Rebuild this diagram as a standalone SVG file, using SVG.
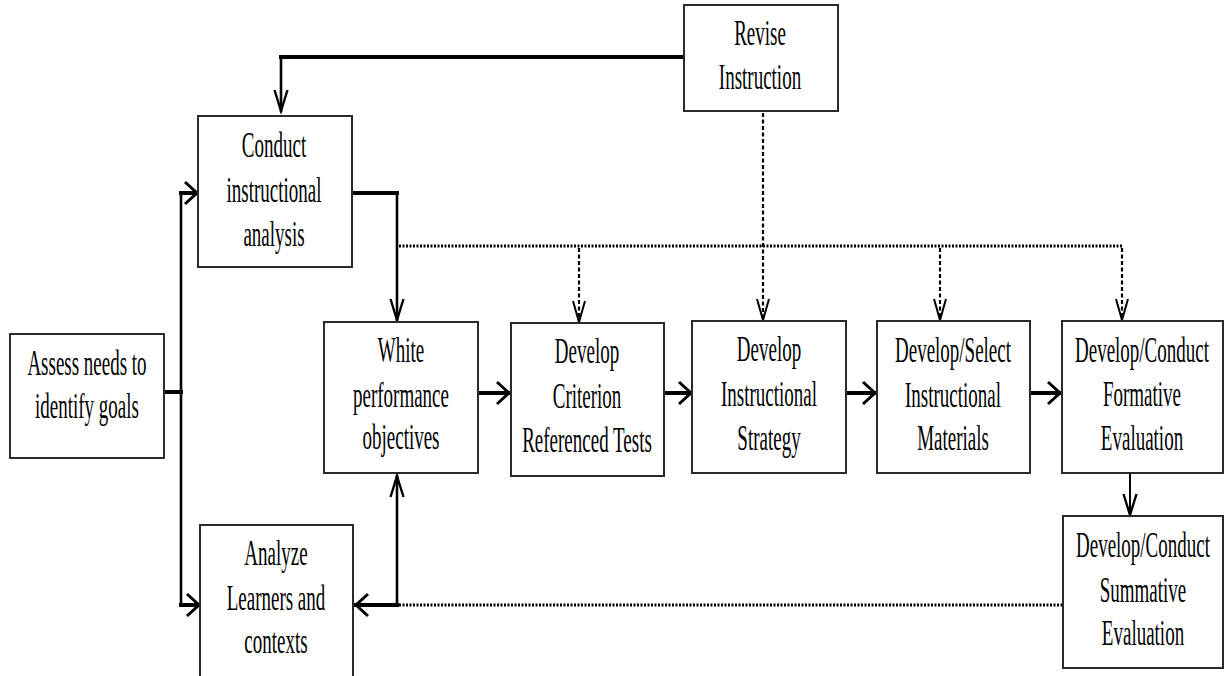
<svg xmlns="http://www.w3.org/2000/svg" width="1225" height="676" viewBox="0 0 1225 676">
<style>
.box{fill:#fff;stroke:#2a2a2a;stroke-width:2}
.t{font-family:"Liberation Serif","Times New Roman",serif;font-size:19px;text-anchor:middle;fill:#000}
.h{stroke:#000;stroke-width:4;fill:none;stroke-linecap:square}
.v{stroke:#000;stroke-width:2.6;fill:none;stroke-linecap:square}
.thin{stroke:#000;stroke-width:2;fill:none}
.dh{stroke:#000;stroke-width:3;fill:none;stroke-dasharray:2 1.5}
.dv{stroke:#000;stroke-width:2.2;fill:none;stroke-dasharray:4 2.5}
</style>
<defs>
<marker id="ah" markerUnits="userSpaceOnUse" viewBox="0 0 15 26" refX="13" refY="13" markerWidth="15" markerHeight="26" orient="auto" overflow="visible">
<path d="M1,2 L13,13 L1,24" fill="none" stroke="#000" stroke-width="3"/>
</marker>
<marker id="av" markerUnits="userSpaceOnUse" viewBox="0 0 24 16" refX="22" refY="8" markerWidth="24" markerHeight="16" orient="auto" overflow="visible">
<path d="M1,1.5 L22,8 L1,14.5" fill="none" stroke="#000" stroke-width="2.4"/>
</marker>
<marker id="adv" markerUnits="userSpaceOnUse" viewBox="0 0 24 16" refX="22" refY="8" markerWidth="24" markerHeight="16" orient="auto" overflow="visible">
<path d="M1,2 L22,8 L1,14" fill="none" stroke="#000" stroke-width="2"/>
</marker>
</defs>

<g id="connectors">
<!-- Revise -> Conduct -->
<line class="h" x1="683" y1="57" x2="281" y2="57"/>
<line class="v" x1="281" y1="57" x2="281" y2="111" marker-end="url(#av)"/>
<!-- Assess split -->
<line class="h" x1="165" y1="392" x2="181" y2="392"/>
<line class="v" x1="181" y1="193" x2="181" y2="605"/>
<line class="h" x1="181" y1="193" x2="197" y2="193" marker-end="url(#ah)"/>
<line class="h" x1="181" y1="605" x2="199" y2="605" marker-end="url(#ah)"/>
<!-- Conduct -> White -->
<line class="h" x1="353" y1="193" x2="397" y2="193"/>
<line class="v" x1="397" y1="193" x2="397" y2="320" marker-end="url(#av)"/>
<!-- main chain -->
<line class="h" x1="479" y1="393" x2="509" y2="393" marker-end="url(#ah)"/>
<line class="h" x1="665" y1="393" x2="691" y2="393" marker-end="url(#ah)"/>
<line class="h" x1="847" y1="393" x2="875" y2="393" marker-end="url(#ah)"/>
<line class="h" x1="1031" y1="393" x2="1060" y2="393" marker-end="url(#ah)"/>
<!-- Formative -> Summative -->
<line class="thin" x1="1130" y1="474" x2="1130" y2="515" marker-end="url(#av)"/>
<!-- Summative feedback -->
<line class="dh" x1="399" y1="605" x2="1062" y2="605"/>
<line class="v" x1="397" y1="605" x2="397" y2="476" marker-end="url(#av)"/>
<line class="h" x1="397" y1="605" x2="356" y2="605" marker-end="url(#ah)"/>
<!-- dotted revision lines -->
<line class="dh" x1="399" y1="246" x2="1122" y2="246"/>
<line class="dv" x1="579" y1="248" x2="579" y2="322" marker-end="url(#adv)"/>
<line class="dv" x1="940" y1="248" x2="940" y2="320" marker-end="url(#adv)"/>
<line class="dv" x1="1122" y1="248" x2="1122" y2="320" marker-end="url(#adv)"/>
<line class="dv" x1="763" y1="113" x2="763" y2="320" marker-end="url(#adv)"/>
</g>

<g id="revise">
<rect class="box" x="684" y="5" width="154" height="106"/>
<text class="t" transform="matrix(1 0 0 1.9 760 45)">Revise</text>
<text class="t" transform="matrix(1 0 0 1.9 760 89)">Instruction</text>
</g>

<g id="conduct">
<rect class="box" x="198" y="116" width="154" height="151"/>
<text class="t" transform="matrix(1 0 0 1.9 274 157)">Conduct</text>
<text class="t" transform="matrix(1 0 0 1.9 274 202)">instructional</text>
<text class="t" transform="matrix(1 0 0 1.9 274 246)">analysis</text>
</g>

<g id="assess">
<rect class="box" x="10" y="334" width="154" height="124"/>
<text class="t" transform="matrix(1 0 0 1.9 87 375)">Assess needs to</text>
<text class="t" transform="matrix(1 0 0 1.9 87 418)">identify goals</text>
</g>

<g id="analyze">
<rect class="box" x="200" y="525" width="153" height="155"/>
<text class="t" transform="matrix(1 0 0 1.9 276 565)">Analyze</text>
<text class="t" transform="matrix(1 0 0 1.9 276 610)">Learners and</text>
<text class="t" transform="matrix(1 0 0 1.9 276 653)">contexts</text>
</g>

<g id="white">
<rect class="box" x="324" y="322" width="154" height="151"/>
<text class="t" transform="matrix(1 0 0 1.9 401 362)">White</text>
<text class="t" transform="matrix(1 0 0 1.9 401 407)">performance</text>
<text class="t" transform="matrix(1 0 0 1.9 401 449)">objectives</text>
</g>

<g id="criterion">
<rect class="box" x="511" y="323" width="153" height="153"/>
<text class="t" transform="matrix(1 0 0 1.9 587 363)">Develop</text>
<text class="t" transform="matrix(1 0 0 1.9 587 408)">Criterion</text>
<text class="t" transform="matrix(1 0 0 1.9 587 452)">Referenced Tests</text>
</g>

<g id="strategy">
<rect class="box" x="692" y="321" width="154" height="152"/>
<text class="t" transform="matrix(1 0 0 1.9 769 361)">Develop</text>
<text class="t" transform="matrix(1 0 0 1.9 769 406)">Instructional</text>
<text class="t" transform="matrix(1 0 0 1.9 769 450)">Strategy</text>
</g>

<g id="materials">
<rect class="box" x="877" y="321" width="153" height="152"/>
<text class="t" transform="matrix(1 0 0 1.9 953 362)">Develop/Select</text>
<text class="t" transform="matrix(1 0 0 1.9 953 407)">Instructional</text>
<text class="t" transform="matrix(1 0 0 1.9 953 450)">Materials</text>
</g>

<g id="formative">
<rect class="box" x="1062" y="321" width="161" height="152"/>
<text class="t" transform="matrix(1 0 0 1.9 1142 362)">Develop/Conduct</text>
<text class="t" transform="matrix(1 0 0 1.9 1142 406)">Formative</text>
<text class="t" transform="matrix(1 0 0 1.9 1142 450)">Evaluation</text>
</g>

<g id="summative">
<rect class="box" x="1063" y="516" width="160" height="152"/>
<text class="t" transform="matrix(1 0 0 1.9 1143 557)">Develop/Conduct</text>
<text class="t" transform="matrix(1 0 0 1.9 1143 602)">Summative</text>
<text class="t" transform="matrix(1 0 0 1.9 1143 645)">Evaluation</text>
</g>
</svg>
